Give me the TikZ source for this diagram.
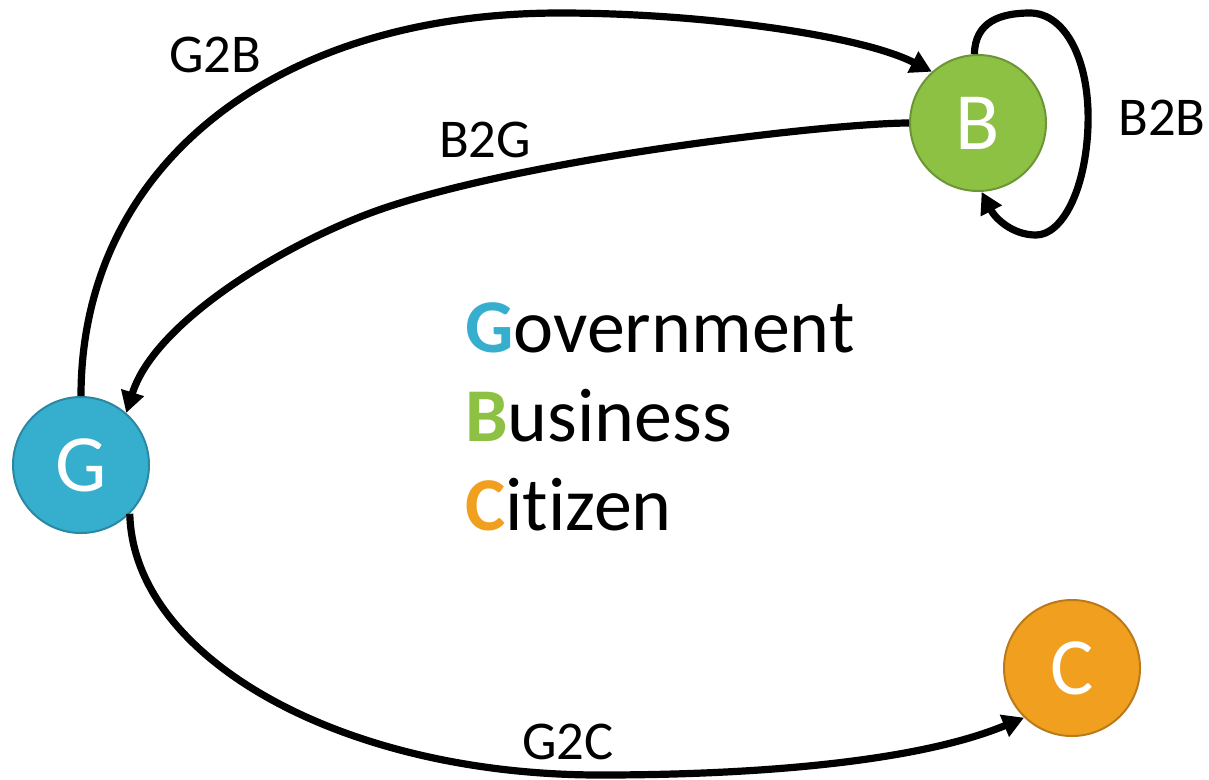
\documentclass[tikz,border=0pt]{standalone}
\usepackage{fontspec}
\setmainfont{Carlito}[Ligatures=NoCommon]
\usetikzlibrary{arrows.meta}
\definecolor{gblue}{HTML}{36AECD}
\definecolor{gblueb}{HTML}{2A88A3}
\definecolor{bgreen}{HTML}{8CC144}
\definecolor{bgreenb}{HTML}{6C9636}
\definecolor{corange}{HTML}{F19F1F}
\definecolor{corangeb}{HTML}{BA7A1A}
\tikzset{
  ent/.style={circle, minimum size=102pt, inner sep=0pt, line width=1.5pt,
    text=white, font=\fontsize{61}{61}\selectfont},
  conn/.style={line width=5.4pt, -{Triangle[length=16pt,width=17pt]}},
  lab/.style={font=\fontsize{41}{41}\selectfont, inner sep=0pt},
  legend/.style={font=\fontsize{57}{57}\selectfont, inner sep=0pt, anchor=base west}
}
\begin{document}
\begin{tikzpicture}[x=0.75pt,y=-0.75pt]
\useasboundingbox (0,0) rectangle (1209,779);
\node[ent, fill=gblue, draw=gblueb] (G) at (81,465) {G};
\node[ent, fill=bgreen, draw=bgreenb] (B) at (978,123) {B};
\node[ent, fill=corange, draw=corangeb] (C) at (1072,668) {C};

\draw[conn] (G.north) .. controls (81,167) and (273,13) .. (560,13)
  .. controls (700,13) and (860,35) .. (B.132);
\draw[conn] (B.west) .. controls (830,123) and (500,161) .. (360,217)
  .. controls (267,254) and (153,327) .. (G.49);
\draw[conn] (B.93) .. controls (975,22) and (1000,13) .. (1030,13)
  .. controls (1065,13) and (1090,60) .. (1088,125)
  .. controls (1086,190) and (1062,235) .. (1036,235)
  .. controls (1012,235) and (995,218) .. (B.-87);
\draw[conn] (G.-45) .. controls (133,657) and (340,775) .. (600,775)
  .. controls (750,775) and (915,763) .. (C.-134);

\node[lab] (lg2b) at (215,55) {G2B};
\node[lab] (lb2g) at (485,140) {B2G};
\node[lab] (lb2b) at (1162,118) {B2B};
\node[lab] (lg2c) at (568,742) {G2C};

\node[legend] (lgov) at (465,352) {\textbf{\color{gblue}G}overnment};
\node[legend] (lbus) at (465,441) {\textbf{\color{bgreen}B}usiness};
\node[legend] (lcit) at (465,530) {\textbf{\color{corange}C}it\kern0pt izen};
\end{tikzpicture}
\end{document}
